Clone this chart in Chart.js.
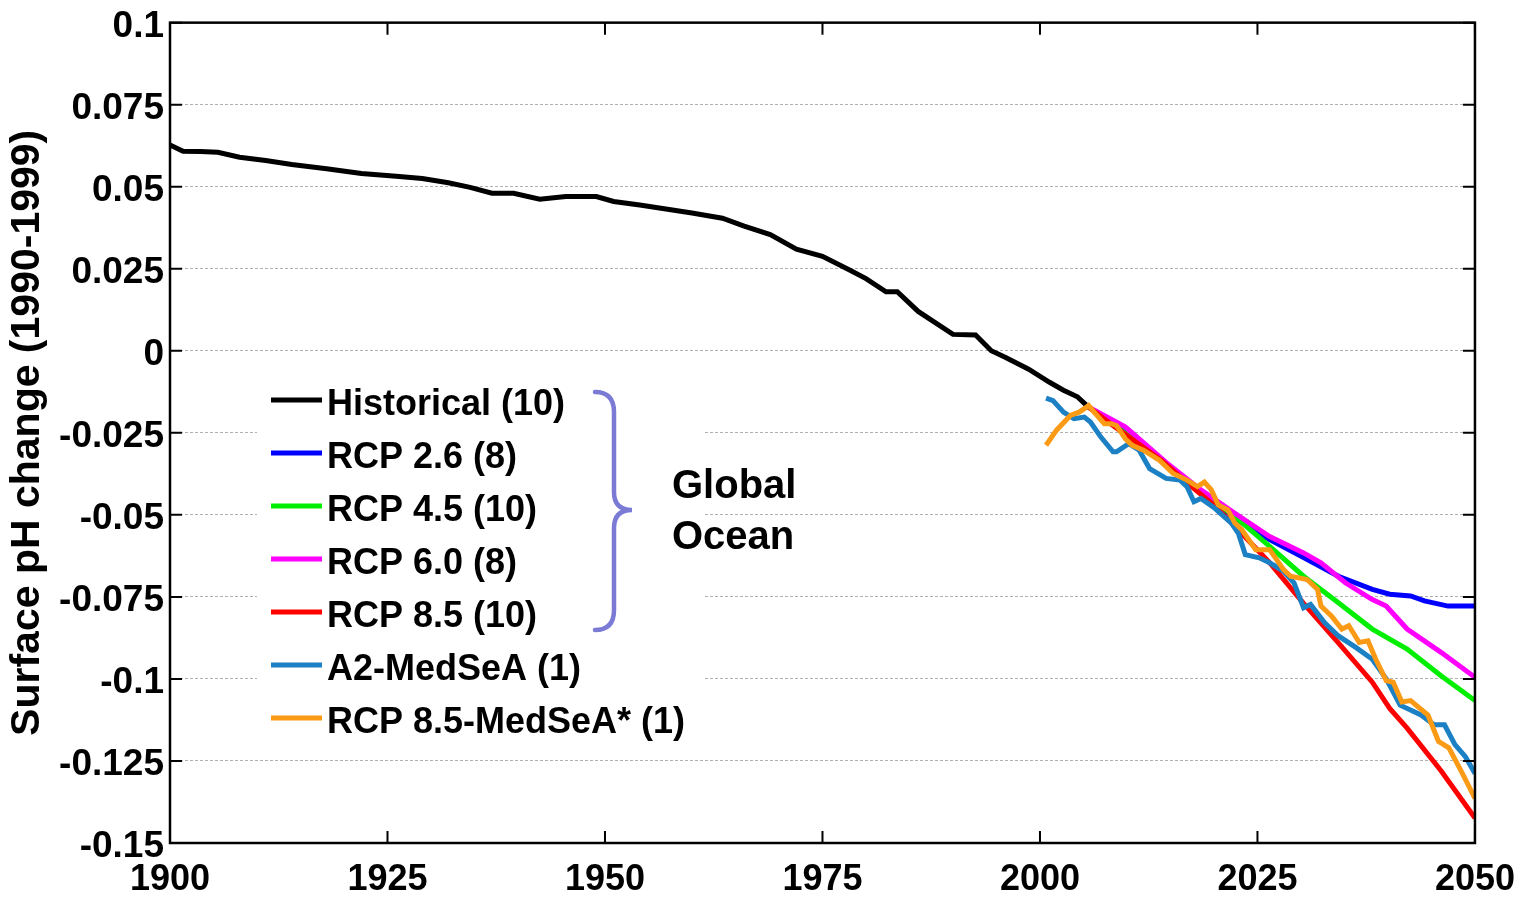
<!DOCTYPE html>
<html>
<head>
<meta charset="utf-8">
<script src="https://cdn.jsdelivr.net/npm/chart.js@4.4.1/dist/chart.umd.min.js"></script>
<style>
  body { margin: 0; background: #fff; }
  #wrap { width: 1528px; height: 901px; }
</style>
</head>
<body>
<div id="wrap"><canvas id="ph-chart" width="1528" height="901"></canvas></div>
<script>
// values (surface pH change relative to 1990-1999)
const histYears = [1900, 1901.5, 1903.5, 1905.5, 1908, 1911, 1914, 1918, 1922, 1926, 1929, 1932, 1934.5, 1937, 1939.5, 1942.5, 1945.5, 1949, 1951, 1954, 1957, 1960, 1963.5, 1966, 1969, 1972, 1975, 1978, 1980, 1982.3, 1983.6, 1986, 1988, 1990, 1992.6, 1994.4, 1996, 1998.7, 2001.1, 2002.7, 2004.3, 2005.3];
const histPH = [0.0627, 0.0608, 0.0607, 0.0605, 0.059, 0.058, 0.0568, 0.0555, 0.054, 0.0532, 0.0525, 0.0512, 0.0498, 0.048, 0.048, 0.0462, 0.047, 0.047, 0.0455, 0.0444, 0.0432, 0.042, 0.0404, 0.038, 0.0354, 0.031, 0.0288, 0.0248, 0.022, 0.018, 0.018, 0.012, 0.0085, 0.005, 0.0048, 0.0, -0.002, -0.0056, -0.0096, -0.012, -0.014, -0.0165];

const rcp26Years = [2005.5, 2010, 2014.5, 2018.5, 2022.4, 2026.4, 2030.3, 2034.3, 2038.2, 2040.2, 2042.6, 2044.2, 2046.9, 2050];
const rcp26PH = [-0.017, -0.025, -0.0345, -0.043, -0.051, -0.0575, -0.063, -0.0687, -0.0727, -0.0742, -0.0747, -0.0762, -0.0778, -0.0778];

const rcp45Years = [2005.5, 2010, 2014.5, 2018.5, 2022.4, 2026.4, 2030.3, 2034.3, 2038.2, 2042.2, 2046.1, 2050];
const rcp45PH = [-0.017, -0.0255, -0.0345, -0.043, -0.0505, -0.0596, -0.0687, -0.0768, -0.0848, -0.0909, -0.099, -0.1066];

const rcp60Years = [2005.5, 2009.8, 2014.5, 2018.5, 2022.4, 2026.4, 2030.3, 2032.3, 2035.1, 2038.2, 2039.8, 2042.2, 2046.1, 2050];
const rcp60PH = [-0.017, -0.0232, -0.034, -0.0424, -0.0495, -0.0566, -0.0616, -0.0646, -0.0707, -0.0758, -0.0778, -0.0848, -0.0919, -0.0995];

const rcp85Years = [2005.5, 2008, 2010.6, 2014, 2017.7, 2020, 2022.4, 2026.4, 2030.3, 2034.3, 2038.2, 2040.2, 2042.2, 2046.1, 2050];
const rcp85PH = [-0.017, -0.022, -0.027, -0.0335, -0.042, -0.047, -0.0535, -0.0646, -0.077, -0.089, -0.101, -0.109, -0.115, -0.128, -0.1424];

const a2Years = [2000.7, 2001.5, 2002.7, 2003.9, 2005.1, 2005.8, 2007, 2008.4, 2008.8, 2010.2, 2011.4, 2012.6, 2014.5, 2016.1, 2016.9, 2017.7, 2018.5, 2020.1, 2022, 2022.8, 2023.6, 2025.2, 2026.4, 2028, 2029.2, 2030.3, 2031.1, 2032.7, 2034.3, 2036.3, 2038.2, 2039.8, 2041.4, 2043.8, 2045.3, 2046.5, 2047.7, 2048.9, 2050];
const a2PH = [-0.0144, -0.0152, -0.0187, -0.0207, -0.0202, -0.0217, -0.0263, -0.0308, -0.0308, -0.0283, -0.0303, -0.0359, -0.0389, -0.0394, -0.0414, -0.046, -0.045, -0.048, -0.0525, -0.0556, -0.0621, -0.0631, -0.0646, -0.0672, -0.0707, -0.0783, -0.0773, -0.0828, -0.0869, -0.0904, -0.094, -0.1, -0.108, -0.111, -0.114, -0.114, -0.12, -0.1237, -0.1288];

const medYears = [2000.7, 2001.9, 2003.5, 2004.5, 2005.6, 2006.4, 2007.4, 2008.2, 2008.8, 2009.8, 2010.6, 2011.9, 2013.7, 2015.3, 2016.9, 2018.1, 2018.9, 2019.7, 2020.5, 2021.6, 2022.4, 2023.2, 2024.8, 2026.4, 2028, 2028.8, 2030.7, 2031.9, 2032.3, 2033.5, 2034.7, 2035.5, 2036.7, 2037.7, 2038.6, 2039.8, 2040.6, 2041.6, 2042.6, 2044.6, 2045.8, 2047, 2048.6, 2050];
const medPH = [-0.0288, -0.0242, -0.0197, -0.0187, -0.0167, -0.0192, -0.0222, -0.0222, -0.0228, -0.0268, -0.0288, -0.0303, -0.0333, -0.0374, -0.0394, -0.0414, -0.04, -0.0424, -0.047, -0.0485, -0.0525, -0.0545, -0.0606, -0.0606, -0.0667, -0.0687, -0.0697, -0.0727, -0.0778, -0.0808, -0.0848, -0.0838, -0.0889, -0.0884, -0.094, -0.1005, -0.101, -0.107, -0.1066, -0.111, -0.119, -0.121, -0.129, -0.1364];

const seriesLabels = ['Historical (10)', 'RCP 2.6 (8)', 'RCP 4.5 (10)', 'RCP 6.0 (8)', 'RCP 8.5 (10)', 'A2-MedSeA (1)', 'RCP 8.5-MedSeA* (1)'];
const seriesColors = ['#000000', '#0000ff', '#00ee00', '#ff00ff', '#ff0000', '#1b80c4', '#fb9a15'];
const seriesYears = [histYears, rcp26Years, rcp45Years, rcp60Years, rcp85Years, a2Years, medYears];
const seriesPH = [histPH, rcp26PH, rcp45PH, rcp60PH, rcp85PH, a2PH, medPH];

const groupNote = ['Global', 'Ocean'];

const FONT = "'Liberation Sans', Arial, sans-serif";

const zip = (xs, ys) => xs.map((x, i) => ({ x: x, y: ys[i] }));

const datasets = seriesLabels.map((label, i) => ({
  label: label,
  data: zip(seriesYears[i], seriesPH[i]),
  borderColor: seriesColors[i],
  backgroundColor: seriesColors[i],
  borderWidth: 5,
  pointRadius: 0,
  tension: 0,
  fill: false,
  order: seriesLabels.length - i
}));

// frame, inward ticks, legend with the bracket
const decorations = {
  id: 'decorations',
  beforeDatasetsDraw(chart) {
    const ctx = chart.ctx;
    ctx.save();
    ctx.fillStyle = '#fff';
    ctx.fillRect(257, 380, 448, 370);
    ctx.restore();
  },
  afterDatasetsDraw(chart) {
    const ctx = chart.ctx;
    const a = chart.chartArea;
    const xs = chart.scales.x;
    const ys = chart.scales.y;
    ctx.save();
    ctx.strokeStyle = '#000';
    ctx.lineWidth = 2;
    xs.ticks.forEach(t => {
      const px = xs.getPixelForValue(t.value);
      ctx.beginPath();
      ctx.moveTo(px, a.bottom); ctx.lineTo(px, a.bottom - 12);
      ctx.moveTo(px, a.top); ctx.lineTo(px, a.top + 12);
      ctx.stroke();
    });
    ys.ticks.forEach(t => {
      const py = ys.getPixelForValue(t.value);
      ctx.beginPath();
      ctx.moveTo(a.left, py); ctx.lineTo(a.left + 12, py);
      ctx.moveTo(a.right, py); ctx.lineTo(a.right - 12, py);
      ctx.stroke();
    });
    ctx.lineWidth = 2.5;
    ctx.strokeRect(a.left, a.top, a.right - a.left, a.bottom - a.top);

    // legend
    ctx.font = 'bold 36px ' + FONT;
    ctx.textBaseline = 'middle';
    ctx.textAlign = 'left';
    chart.data.datasets.forEach((ds, i) => {
      const y = 400 + i * 53;
      ctx.strokeStyle = ds.borderColor;
      ctx.lineWidth = 5;
      ctx.beginPath();
      ctx.moveTo(271, y); ctx.lineTo(322, y);
      ctx.stroke();
      ctx.fillStyle = '#000';
      ctx.fillText(ds.label, 327, y + 5);
    });

    // brace
    ctx.strokeStyle = '#7b7bd6';
    ctx.lineWidth = 4.5;
    ctx.lineCap = 'round';
    ctx.beginPath();
    ctx.moveTo(595, 392);
    ctx.quadraticCurveTo(614, 392, 614, 412);
    ctx.lineTo(614, 492);
    ctx.quadraticCurveTo(614, 510, 632, 510);
    ctx.quadraticCurveTo(614, 510, 614, 528);
    ctx.lineTo(614, 610);
    ctx.quadraticCurveTo(614, 630, 595, 630);
    ctx.stroke();

    ctx.fillStyle = '#000';
    ctx.font = 'bold 40px ' + FONT;
    ctx.textBaseline = 'alphabetic';
    ctx.fillText(groupNote[0], 672, 498);
    ctx.fillText(groupNote[1], 672, 549);
    ctx.restore();
  }
};

new Chart(document.getElementById('ph-chart'), {
  type: 'line',
  data: { datasets: datasets },
  options: {
    responsive: false,
    devicePixelRatio: 1,
    animation: false,
    layout: { padding: { top: 20, right: 53, left: 0, bottom: 0 } },
    plugins: {
      legend: { display: false },
      tooltip: { enabled: false }
    },
    scales: {
      x: {
        type: 'linear',
        min: 1900,
        max: 2050,
        afterFit: scale => { scale.height = 58; },
        ticks: {
          stepSize: 25,
          padding: 13,
          color: '#000',
          font: { family: FONT, size: 36, weight: 'bold', lineHeight: 1 },
          maxRotation: 0,
          callback: v => String(v)
        },
        grid: {
          display: true,
          drawOnChartArea: false,
          drawTicks: true,
          tickLength: 6,
          color: 'rgba(0,0,0,0)'
        },
        border: { display: false }
      },
      y: {
        type: 'linear',
        min: -0.15,
        max: 0.1,
        afterFit: scale => { scale.width = 170; },
        ticks: {
          stepSize: 0.025,
          padding: 6,
          labelOffset: 4,
          color: '#000',
          font: { family: FONT, size: 37, weight: 'bold', lineHeight: 0.9 },
          callback: v => String(Number(v.toFixed(3)))
        },
        grid: {
          color: '#b0b0b0',
          lineWidth: 1,
          drawTicks: false
        },
        border: { display: false, dash: [3, 2] },
        title: {
          display: true,
          text: 'Surface pH change (1990-1999)',
          color: '#000',
          font: { family: FONT, size: 41, weight: 'bold' },
          padding: { top: 3, bottom: 0 }
        }
      }
    }
  },
  plugins: [decorations]
});
</script>
</body>
</html>
